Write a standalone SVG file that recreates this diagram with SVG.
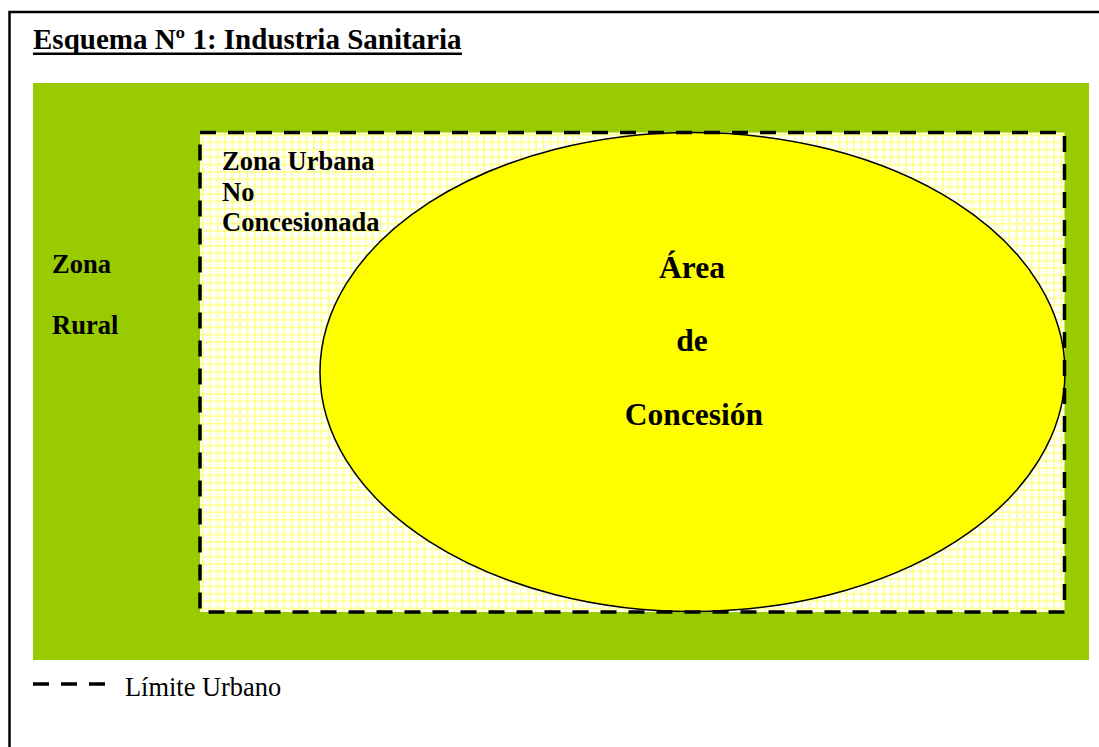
<svg xmlns="http://www.w3.org/2000/svg" width="1099" height="747" viewBox="0 0 1099 747">
  <style>
    .b { font-family: "Liberation Serif", "Times New Roman", serif; font-weight: bold; fill: #000; }
    .r { font-family: "Liberation Serif", "Times New Roman", serif; fill: #000; }
    .limit { fill: none; stroke: #000; stroke-width: 3.5; stroke-dasharray: 16 12; }
  </style>
  <defs>
    <pattern id="grid" x="202" y="134" width="7.4" height="7.4" patternUnits="userSpaceOnUse">
      <rect width="7.4" height="7.4" fill="#ffffff"/>
      <path d="M0 0.9 H7.4 M0.9 0 V7.4" stroke="#ffff99" stroke-width="1.8"/>
    </pattern>
  </defs>

  <rect width="1099" height="747" fill="#ffffff"/>
  <!-- page frame -->
  <rect x="9.5" y="12" width="1100" height="760" fill="none" stroke="#000" stroke-width="2.5"/>

  <g id="title">
    <text class="b" x="33" y="49" font-size="29">Esquema Nº 1: Industria Sanitaria</text>
    <rect x="33" y="52.5" width="429" height="2.5" fill="#000"/>
  </g>

  <g id="zona-rural">
    <rect x="33" y="83" width="1056" height="577" fill="#99cc00"/>
    <text class="b" x="52" y="273" font-size="26.5">Zona</text>
    <text class="b" x="52" y="334" font-size="26.5">Rural</text>
  </g>

  <g id="zona-urbana">
    <rect x="200" y="132.5" width="864.5" height="479.5" fill="url(#grid)"/>
    <text class="b" x="222" y="169.5" font-size="26.5">Zona Urbana</text>
    <text class="b" x="222" y="200.5" font-size="26.5">No</text>
    <text class="b" x="222" y="231" font-size="26.5">Concesionada</text>
  </g>

  <g id="area-concesion">
    <ellipse cx="692.5" cy="372" rx="372.5" ry="239.5" fill="#ffff00" stroke="#000" stroke-width="1.5"/>
    <text class="b" x="692" y="278" font-size="31.5" text-anchor="middle">Área</text>
    <text class="b" x="692" y="351" font-size="31.5" text-anchor="middle">de</text>
    <text class="b" x="694" y="425" font-size="31.5" text-anchor="middle">Concesión</text>
  </g>

  <g id="connectors">
    <!-- urban limit boundary -->
    <rect class="limit" x="200" y="132.5" width="864.5" height="479.5"/>
  </g>

  <g id="legend">
    <line class="limit" x1="33" y1="684" x2="105" y2="684" stroke-width="4"/>
    <text class="r" x="125" y="696" font-size="26.4">Límite Urbano</text>
  </g>
</svg>
